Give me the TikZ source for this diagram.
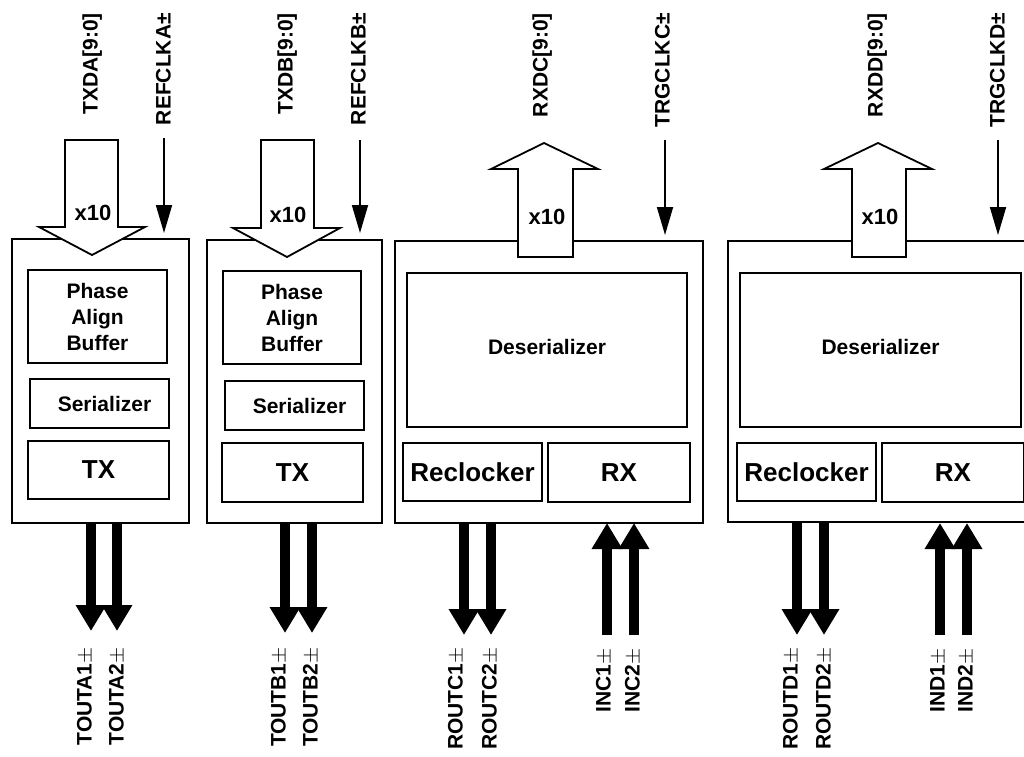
\documentclass[tikz,border=0pt]{standalone}
\usepackage{fontspec}
\setmainfont{Liberation Sans}
\usetikzlibrary{arrows.meta}
\begin{document}
\begin{tikzpicture}[x=1pt,y=-1pt,
  outerbox/.style={draw,line width=2.8pt,fill=white,inner sep=0pt},
  innerbox/.style={draw,line width=2pt,inner sep=0pt,font=\fontsize{21}{26}\selectfont\bfseries,align=center},
  bigtext/.style={font=\fontsize{26}{30}\selectfont\bfseries},
  toplabel/.style={rotate=90,anchor=east,inner sep=0pt,font=\fontsize{21}{24}\selectfont\bfseries,text height=15pt,text depth=0pt},
  botlabel/.style={rotate=90,anchor=east,inner sep=0pt,font=\fontsize{21}{24}\selectfont\bfseries,text height=15pt,text depth=0pt},
  hollow/.style={draw,line width=1.8pt,fill=white,line join=miter},
  clk/.style={line width=1.8pt,-{Triangle[width=16pt,length=28pt]}},
  bus/.style={line width=10pt,-{Triangle[width=29pt,length=26pt]}},
  xten/.style={font=\fontsize{22}{24}\selectfont\bfseries,inner sep=0pt}
]
\clip (0,0) rectangle (1024,756);
\useasboundingbox (0,0) rectangle (1024,756);

% ---------- Block A ----------
\node[outerbox,minimum width=177pt,minimum height=284pt] (boxA) at (100.5,381) {};
\node[innerbox,minimum width=139pt,minimum height=93pt] (pabA) at (97.5,316.5) {Phase\\Align\\Buffer};
\node[innerbox,minimum width=139pt,minimum height=49pt] (serA) at (99.5,403.5) {\hspace{10pt}Serializer};
\node[innerbox,bigtext,minimum width=141pt,minimum height=58pt] (txA) at (98.5,470) {TX};
% ---------- Block B ----------
\node[outerbox,minimum width=175pt,minimum height=283pt] (boxB) at (294.5,381.5) {};
\node[innerbox,minimum width=138pt,minimum height=93pt] (pabB) at (292,317.5) {Phase\\Align\\Buffer};
\node[innerbox,minimum width=139pt,minimum height=49pt] (serB) at (294.5,405.5) {\hspace{10pt}Serializer};
\node[innerbox,bigtext,minimum width=141pt,minimum height=59pt] (txB) at (292.5,472.5) {TX};
% ---------- Block C ----------
\node[outerbox,minimum width=308pt,minimum height=282pt] (boxC) at (549,382) {};
\node[innerbox,minimum width=280pt,minimum height=154pt] (desC) at (547,350) {\raisebox{7pt}{Deserializer}};
\node[innerbox,bigtext,minimum width=139pt,minimum height=58pt] (recC) at (472.5,472) {Reclocker};
\node[innerbox,bigtext,minimum width=142pt,minimum height=59pt] (rxC) at (619,472.5) {RX};
% ---------- Block D ----------
\node[outerbox,minimum width=308pt,minimum height=281pt] (boxD) at (882,381.5) {};
\node[innerbox,minimum width=281pt,minimum height=154pt] (desD) at (880.5,350) {\raisebox{7pt}{Deserializer}};
\node[innerbox,bigtext,minimum width=139pt,minimum height=58pt] (recD) at (806.5,472) {Reclocker};
\node[innerbox,bigtext,minimum width=142pt,minimum height=59pt] (rxD) at (953,472.5) {RX};

% ---------- Hollow bus arrows ----------
\draw[hollow] (65,140) -- (118,140) -- (118,227) -- (145,227) -- (92,255) -- (39,227) -- (65,227) -- cycle;
\draw[hollow] (261,140) -- (314,140) -- (314,228) -- (340,228) -- (287,257) -- (233,228) -- (261,228) -- cycle;
\draw[hollow] (518,257) -- (573,257) -- (573,169) -- (598,169) -- (544,143) -- (491,169) -- (518,169) -- cycle;
\draw[hollow] (852,257) -- (906,257) -- (906,169) -- (932,169) -- (878,143) -- (824,169) -- (852,169) -- cycle;
\node[xten] (xA) at (93,213) {x10};
\node[xten] (xB) at (288,215) {x10};
\node[xten] (xC) at (547,217) {x10};
\node[xten] (xD) at (880,217) {x10};

% ---------- Top labels ----------
\node[toplabel] (lTXDA) at (90,13) {TXDA[9:0]};
\node[toplabel] (lREFA) at (163,13) {REFCLKA±};
\node[toplabel] (lTXDB) at (285,13) {TXDB[9:0]};
\node[toplabel] (lREFB) at (358,13) {REFCLKB±};
\node[toplabel] (lRXDC) at (540,13) {RXDC[9:0]};
\node[toplabel] (lTRGC) at (662,13) {TRGCLKC±};
\node[toplabel] (lRXDD) at (875,13) {RXDD[9:0]};
\node[toplabel] (lTRGD) at (997,13) {TRGCLKD±};

% ---------- Clock arrows ----------
\coordinate (cA0) at (164,138); \coordinate (cA1) at (164,233);
\coordinate (cB0) at (360,140); \coordinate (cB1) at (360,233);
\coordinate (cC0) at (665,140); \coordinate (cC1) at (665,235);
\coordinate (cD0) at (998,140); \coordinate (cD1) at (998,235);
\draw[clk] (cA0) -- (cA1);
\draw[clk] (cB0) -- (cB1);
\draw[clk] (cC0) -- (cC1);
\draw[clk] (cD0) -- (cD1);

% ---------- Bottom serial arrows ----------
\coordinate (a1s) at (91,523);  \coordinate (a1e) at (91,631);
\coordinate (a2s) at (117,523); \coordinate (a2e) at (117,631);
\coordinate (b1s) at (285,523); \coordinate (b1e) at (285,633);
\coordinate (b2s) at (312,523); \coordinate (b2e) at (312,633);
\coordinate (c1s) at (464,523); \coordinate (c1e) at (464,635);
\coordinate (c2s) at (491,523); \coordinate (c2e) at (491,635);
\coordinate (c3s) at (607,635); \coordinate (c3e) at (607,523);
\coordinate (c4s) at (634,635); \coordinate (c4e) at (634,523);
\coordinate (d1s) at (797,523); \coordinate (d1e) at (797,635);
\coordinate (d2s) at (824,523); \coordinate (d2e) at (824,635);
\coordinate (d3s) at (940,635); \coordinate (d3e) at (940,523);
\coordinate (d4s) at (967,635); \coordinate (d4e) at (967,523);
\foreach \s/\e in {a1s/a1e,a2s/a2e,b1s/b1e,b2s/b2e,c1s/c1e,c2s/c2e,c3s/c3e,c4s/c4e,d1s/d1e,d2s/d2e,d3s/d3e,d4s/d4e}
  \draw[bus] (\s) -- (\e);

% ---------- Bottom labels ----------
\node[botlabel] (lTA1) at (84,647) {TOUTA1$\pm$};
\node[botlabel] (lTA2) at (116,647) {TOUTA2$\pm$};
\node[botlabel] (lTB1) at (278,647) {TOUTB1$\pm$};
\node[botlabel] (lTB2) at (310,647) {TOUTB2$\pm$};
\node[botlabel] (lRC1) at (455,647) {ROUTC1$\pm$};
\node[botlabel] (lRC2) at (489,647) {ROUTC2$\pm$};
\node[botlabel] (lIC1) at (603,648) {INC1$\pm$};
\node[botlabel] (lIC2) at (632,648) {INC2$\pm$};
\node[botlabel] (lRD1) at (790,647) {ROUTD1$\pm$};
\node[botlabel] (lRD2) at (823,647) {ROUTD2$\pm$};
\node[botlabel] (lID1) at (937,648) {IND1$\pm$};
\node[botlabel] (lID2) at (965,648) {IND2$\pm$};
\end{tikzpicture}
\end{document}
